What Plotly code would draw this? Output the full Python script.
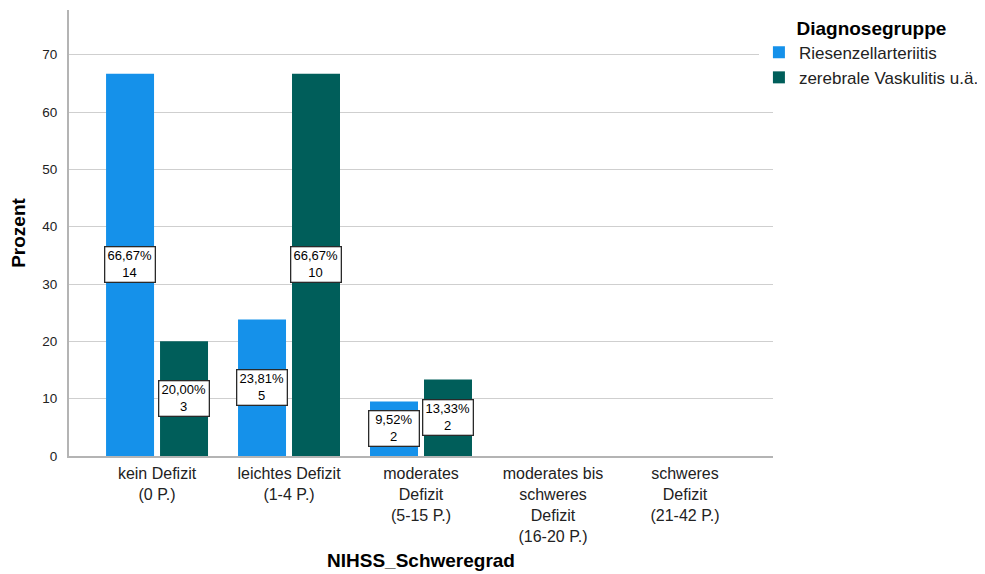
import plotly.graph_objects as go

categories = ["kein Defizit<br>(0 P.)", "leichtes Defizit<br>(1-4 P.)", "moderates<br>Defizit<br>(5-15 P.)",
              "moderates bis<br>schweres<br>Defizit<br>(16-20 P.)", "schweres<br>Defizit<br>(21-42 P.)"]
series_names = ["Riesenzellarteriitis", "zerebrale Vaskulitis u.ä."]
rza_pct = [66.67, 23.81, 9.52, 0, 0]
rza_n = [14, 5, 2, 0, 0]
vask_pct = [20.00, 66.67, 13.33, 0, 0]
vask_n = [3, 10, 2, 0, 0]
colors = ["#1591EA", "#005E5A"]
y_ticks = [0, 10, 20, 30, 40, 50, 60, 70]

FONT = "Liberation Sans, Arial, sans-serif"
xs = list(range(len(categories)))
fig = go.Figure()
fig.add_trace(go.Bar(x=xs, y=rza_pct, name=series_names[0], marker=dict(color=colors[0], line=dict(width=0))))
fig.add_trace(go.Bar(x=xs, y=vask_pct, name=series_names[1], marker=dict(color=colors[1], line=dict(width=0))))

slot = 0.4091
anns = []
for off, pcts, ns in [(-slot / 2, rza_pct, rza_n), (slot / 2, vask_pct, vask_n)]:
    for i, (p, n) in enumerate(zip(pcts, ns)):
        if n == 0:
            continue
        lbl = f"{p:.2f}".replace(".", ",") + "%<br>" + str(n)
        anns.append(dict(x=i + off, y=p / 2, xref="x", yref="y", text=lbl, showarrow=False,
                         font=dict(family=FONT, size=13, color="#000"),
                         bgcolor="white", bordercolor="#2a2a2a", borderwidth=1.3, borderpad=1,
                         width=47, align="center"))
fig.update_layout(annotations=anns)

fig.update_layout(
    width=977, height=566,
    barmode="group", bargap=0.182, bargroupgap=0.111,
    plot_bgcolor="white", paper_bgcolor="white",
    margin=dict(l=61, r=212, t=2, b=118, autoexpand=False),
    font=dict(family=FONT, size=13, color="#222"),
    xaxis=dict(range=[-0.667, 4.667], tickvals=xs, ticktext=categories, showline=True,
               linecolor="#b4b4b4", linewidth=2, ticks="", showgrid=False, automargin=False,
               tickfont=dict(size=16, color="#222"), ticklabelstandoff=2,
               title=dict(text="<b>NIHSS_Schweregrad</b>", font=dict(size=19, color="#000"), standoff=10)),
    yaxis=dict(range=[0, 77.8], tickvals=y_ticks, showline=True, linecolor="#b4b4b4", linewidth=2,
               showgrid=True, gridcolor="#cfcfcf", gridwidth=1, ticks="", zeroline=False, automargin=False,
               tickfont=dict(size=13.5, color="#222"), ticklabelstandoff=7,
               title=dict(text="<b>Prozent</b>", font=dict(size=19, color="#000"), standoff=14)),
    legend=dict(x=0.980, y=1.0, xanchor="left", yanchor="top",
                title=dict(text="<b>Diagnosegruppe</b>", font=dict(size=19, color="#000"), side="top center"),
                font=dict(size=17, color="#222"), itemwidth=30, tracegroupgap=0),
)
fig.write_html("out.html")
